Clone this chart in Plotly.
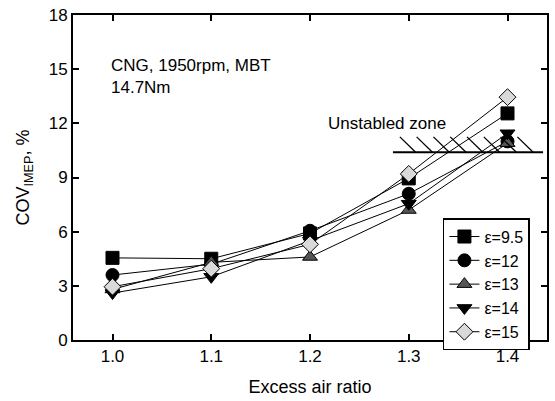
import plotly.graph_objects as go

x_vals = [1.0, 1.1, 1.2, 1.3, 1.4]
series_names = ["ε=9.5", "ε=12", "ε=13", "ε=14", "ε=15"]
cov_e95 = [4.55, 4.5, 5.9, 8.95, 12.55]
cov_e12 = [3.6, 4.2, 6.05, 8.1, 11.0]
cov_e13 = [2.8, 4.3, 4.6, 7.2, 10.9]
cov_e14 = [2.6, 3.5, 5.5, 7.55, 11.45]
cov_e15 = [2.95, 3.95, 5.3, 9.2, 13.45]
series_vals = [cov_e95, cov_e12, cov_e13, cov_e14, cov_e15]

symbols = ["square", "circle", "triangle-up", "triangle-down", "diamond"]
fills = ["black", "black", "#555555", "black", "#d9d9d9"]

unstable_level = 10.4
unstable_x = [1.284, 1.436]
hatch_x = [1.291, 1.308, 1.325, 1.342, 1.359, 1.376, 1.393, 1.410]
hatch_top = 11.25
hatch_dx = 0.016

FONT = "Liberation Sans, Arial, sans-serif"

fig = go.Figure()
for name, vals, sym, fc in zip(series_names, series_vals, symbols, fills):
    fig.add_trace(go.Scatter(
        x=x_vals, y=vals, name=name, mode="lines+markers",
        line=dict(color="black", width=1),
        marker=dict(symbol=sym, size=13, color=fc,
                    line=dict(color="black", width=1)),
    ))

shapes = [dict(type="line", xref="x", yref="y",
               x0=unstable_x[0], x1=unstable_x[1],
               y0=unstable_level, y1=unstable_level,
               line=dict(color="black", width=2))]
for hx in hatch_x:
    shapes.append(dict(type="line", xref="x", yref="y",
                       x0=hx, x1=hx + hatch_dx,
                       y0=hatch_top, y1=unstable_level,
                       line=dict(color="black", width=1.3)))

fig.update_layout(
    width=555, height=401,
    margin=dict(l=73, r=6, t=15, b=61),
    paper_bgcolor="white", plot_bgcolor="white",
    font=dict(family=FONT, size=17, color="black"),
    showlegend=True,
    legend=dict(x=0.964, y=0.375, xanchor="right", yanchor="top",
                bordercolor="black", borderwidth=1.5, bgcolor="white",
                font=dict(size=16), tracegroupgap=0, itemwidth=30),
    shapes=shapes,
    annotations=[
        dict(x=0.996, y=15.85, xref="x", yref="y", xanchor="left", yanchor="top",
             text="CNG, 1950rpm, MBT<br>14.7Nm", showarrow=False,
             align="left", font=dict(size=17)),
        dict(x=1.278, y=12.0, xref="x", yref="y", xanchor="center",
             yanchor="middle", text="Unstabled zone", showarrow=False,
             font=dict(size=17)),
    ],
)
fig.update_xaxes(range=[0.96, 1.44], tickvals=x_vals,
                 ticktext=["1.0", "1.1", "1.2", "1.3", "1.4"],
                 ticks="inside", ticklen=6, tickwidth=1.5, tickcolor="black",
                 showline=True, linecolor="black", linewidth=2,
                 mirror="allticks", showgrid=False, zeroline=False,
                 title=dict(text="Excess air ratio", font=dict(size=18)))
fig.update_yaxes(range=[0, 18], tickvals=[0, 3, 6, 9, 12, 15, 18],
                 ticks="inside", ticklen=6, tickwidth=1.5, tickcolor="black",
                 showline=True, linecolor="black", linewidth=2,
                 mirror="allticks", showgrid=False, zeroline=False,
                 title=dict(text="COV<sub>IMEP</sub>, %", font=dict(size=18),
                            standoff=14))

fig.write_html("out.html")
